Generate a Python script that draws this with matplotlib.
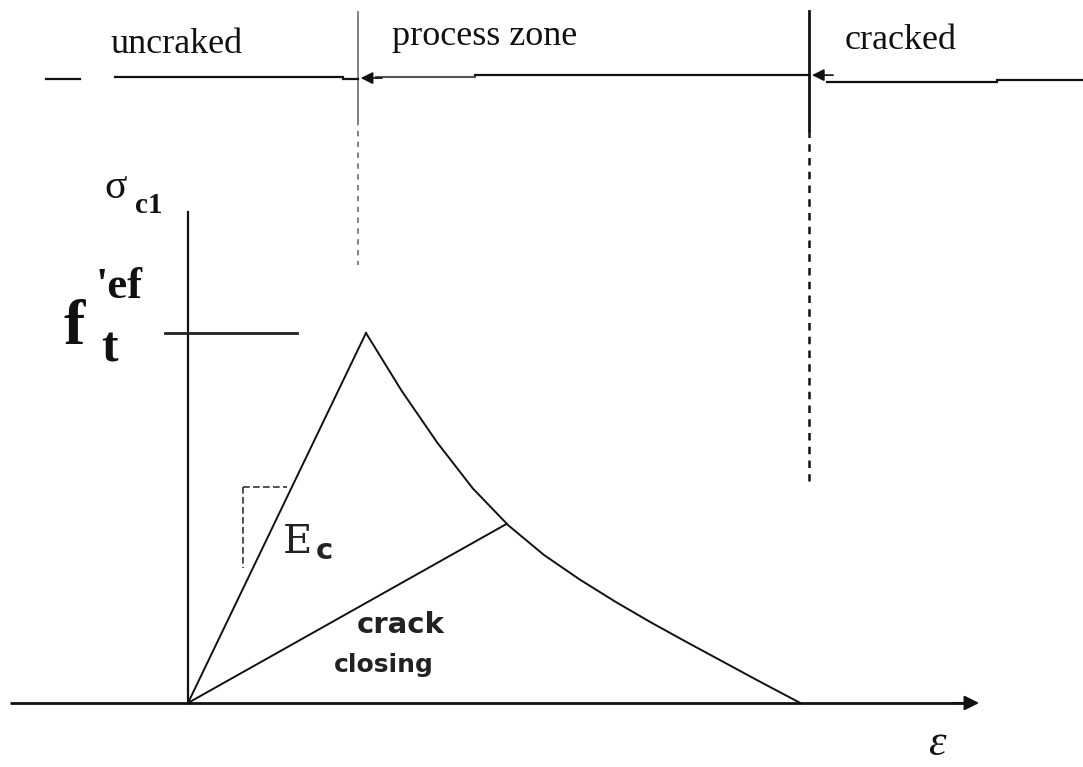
import matplotlib
matplotlib.use("Agg")
import matplotlib.pyplot as plt

# Normalised stress-strain law of concrete in tension (strain / peak strain, stress / f_t)
loading_eps = [0.0, 1.0]
loading_sig = [0.0, 1.0]

softening_eps = [1.0, 1.2, 1.4, 1.6, 1.8, 2.0, 2.2, 2.4, 2.6, 2.8, 3.0, 3.2, 3.44]
softening_sig = [1.0, 0.844, 0.704, 0.58, 0.48, 0.40, 0.334, 0.274, 0.218,
                 0.165, 0.113, 0.061, 0.0]

closing_eps = [0.0, 1.79]
closing_sig = [0.0, 0.484]

zone_labels = ["uncraked", "process zone", "cracked"]
zone_bounds = [0.955, 3.49]

fig = plt.figure(figsize=(10.83, 7.67), dpi=100)
ax = fig.add_axes([0, 0, 1, 1])
ax.set_xlim(-1.056, 5.028)
ax.set_ylim(-0.173, 1.9)
ax.axis("off")

ink = "#111111"

# axes of the diagram
ax.plot([-1.0, 4.40], [0, 0], color=ink, lw=2.0, solid_capstyle="butt")
ax.annotate("", xy=(4.46, 0), xytext=(4.28, 0),
            arrowprops=dict(arrowstyle="-|>", color=ink, lw=1.5,
                            mutation_scale=22))
ax.plot([0, 0], [0, 1.327], color=ink, lw=1.6)

# f_t level tick
ax.plot([-0.13, 0.61], [1.0, 1.0], color="#222222", lw=2.0)

# constitutive curves
ax.plot(loading_eps, loading_sig, color=ink, lw=1.4)
ax.plot(softening_eps, softening_sig, color=ink, lw=1.4, solid_joinstyle="round")
ax.plot(closing_eps, closing_sig, color=ink, lw=1.4)

# slope triangle for E_c
ax.plot([0.31, 0.556], [0.584, 0.584], color="#333333", lw=1.2, ls=(0, (4, 2)))
ax.plot([0.31, 0.31], [0.584, 0.365], color="#333333", lw=1.2, ls=(0, (4, 2)))

# zone boundaries
ax.plot([zone_bounds[0]] * 2, [1.867, 1.576], color="#777777", lw=1.3)
ax.plot([zone_bounds[0]] * 2, [1.576, 1.184], color="#777777", lw=1.3, ls=(0, (3, 3)))
ax.plot([zone_bounds[1]] * 2, [1.87, 1.549], color=ink, lw=2.0)
ax.plot([zone_bounds[1]] * 2, [1.549, 0.6], color=ink, lw=1.8, ls=(0, (3, 2.5)))

# direction line across the zones
ax.plot([-0.80, -0.607], [1.686, 1.686], color=ink, lw=1.6)
ax.plot([-0.41, 0.87], [1.691, 1.691], color=ink, lw=1.6)
ax.plot([0.87, zone_bounds[0]], [1.686, 1.686], color=ink, lw=1.6)
ax.annotate("", xy=(zone_bounds[0], 1.689), xytext=(zone_bounds[0] + 0.15, 1.689),
            arrowprops=dict(arrowstyle="-|>", color=ink, lw=1.2, mutation_scale=18))
ax.plot([zone_bounds[0] + 0.1, 1.61], [1.691, 1.691], color="#555555", lw=1.5)
ax.plot([1.61, zone_bounds[1]], [1.697, 1.697], color=ink, lw=1.6)
ax.annotate("", xy=(zone_bounds[1], 1.697), xytext=(zone_bounds[1] + 0.15, 1.697),
            arrowprops=dict(arrowstyle="-|>", color=ink, lw=1.2, mutation_scale=18))
ax.plot([zone_bounds[1] + 0.1, 4.545], [1.679, 1.679], color=ink, lw=1.6)
ax.plot([4.545, 5.03], [1.684, 1.684], color=ink, lw=1.6)

# zone labels
serif = "Liberation Serif"
ax.text(-0.434, 1.78, zone_labels[0], family=serif, fontsize=26, color=ink,
        ha="left", va="center")
ax.text(1.146, 1.80, zone_labels[1], family=serif, fontsize=26, color=ink,
        ha="left", va="center")
ax.text(3.69, 1.79, zone_labels[2], family=serif, fontsize=26, color=ink,
        ha="left", va="center")

# axis labels
ax.text(-0.47, 1.365, "σ", family=serif, fontsize=30, color=ink,
        ha="left", va="baseline")
ax.text(-0.30, 1.324, "c1", family=serif, fontsize=21, fontweight="bold",
        color=ink, ha="left", va="baseline")
ax.text(4.16, -0.166, "ε", family=serif, fontsize=32, style="italic", color=ink,
        ha="left", va="bottom")

# f_t^ef label
ax.text(-0.70, 0.97, "f", family=serif, fontsize=46, fontweight="bold", color=ink,
        ha="left", va="baseline")
ax.text(-0.485, 0.922, "t", family=serif, fontsize=36, fontweight="bold", color=ink,
        ha="left", va="baseline")
ax.text(-0.52, 1.095, "'ef", family=serif, fontsize=32, fontweight="bold", color=ink,
        ha="left", va="baseline")

# curve annotations
ax.text(0.53, 0.405, "E", family="DejaVu Serif", fontsize=29, color="#222222",
        ha="left", va="baseline")
ax.text(0.715, 0.39, "c", family="DejaVu Sans", fontsize=21, fontweight="bold",
        color="#222222", ha="left", va="baseline")
ax.text(0.95, 0.19, "crack", family="DejaVu Sans", fontsize=21, fontweight="bold",
        color="#222222", ha="left", va="baseline")
ax.text(0.82, 0.085, "closing", family="DejaVu Sans", fontsize=18, fontweight="bold",
        color="#222222", ha="left", va="baseline")

fig.savefig("out.png", dpi=100, facecolor="white")
